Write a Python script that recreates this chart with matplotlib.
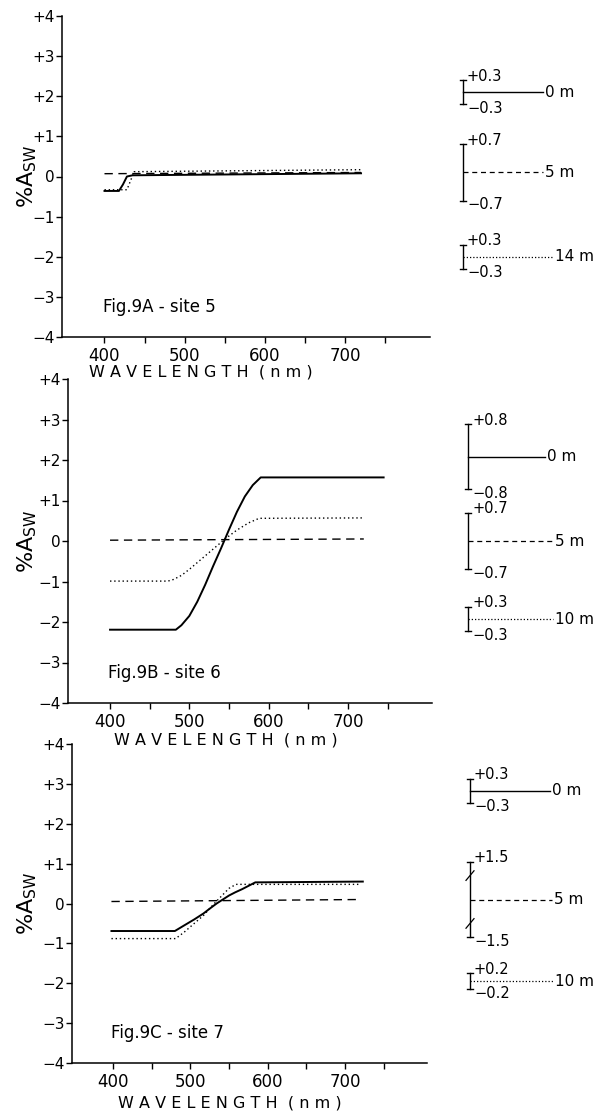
import numpy as np
import matplotlib
matplotlib.use('Agg')
import matplotlib.pyplot as plt
from matplotlib.transforms import blended_transform_factory

# --- data ---
a_wl_solid = [400, 418, 423, 428, 435, 720]
a_solid = [-0.36, -0.36, -0.2, 0.0, 0.03, 0.08]
a_wl_dash = [400, 720]
a_dash = [0.07, 0.10]
a_wl_dot = [400, 428, 437, 720]
a_dot = [-0.33, -0.33, 0.12, 0.17]

b_wl_solid = [400, 483, 490, 500, 510, 520, 530, 540, 550, 560, 570, 580, 590, 745]
b_solid = [-2.19, -2.19, -2.08, -1.85, -1.5, -1.08, -0.62, -0.18, 0.28, 0.72, 1.1, 1.38, 1.57, 1.57]
b_wl_dash = [400, 720]
b_dash = [0.02, 0.05]
b_wl_dot = [400, 473, 480, 490, 500, 515, 530, 545, 560, 575, 588, 720]
b_dot = [-0.99, -0.99, -0.95, -0.85, -0.7, -0.45, -0.2, 0.05, 0.27, 0.45, 0.56, 0.57]

c_wl_solid = [398, 480, 492, 505, 517, 525, 534, 542, 550, 558, 567, 575, 584, 723]
c_solid = [-0.69, -0.69, -0.55, -0.4, -0.25, -0.13, 0.0, 0.1, 0.2, 0.28, 0.36, 0.44, 0.53, 0.55]
c_wl_dash = [398, 720]
c_dash = [0.05, 0.10]
c_wl_dot = [398, 481, 492, 505, 517, 530, 540, 550, 559, 719]
c_dot = [-0.88, -0.88, -0.72, -0.5, -0.3, -0.02, 0.18, 0.38, 0.48, 0.48]

titles = ['Fig.9A - site 5', 'Fig.9B - site 6', 'Fig.9C - site 7']
leg_depths = [['0 m', '5 m', '14 m'], ['0 m', '5 m', '10 m'], ['0 m', '5 m', '10 m']]
leg_errors = [[0.3, 0.7, 0.3], [0.8, 0.7, 0.3], [0.3, 1.5, 0.2]]

ytick_vals = [-4, -3, -2, -1, 0, 1, 2, 3, 4]
ytick_labels = ['\u22124', '\u22123', '\u22122', '\u22121', '0', '+1', '+2', '+3', '+4']
xtick_major = [400, 500, 600, 700]
xtick_minor = [450, 550, 650, 750]

panels = [
    (a_wl_solid, a_solid, a_wl_dash, a_dash, a_wl_dot, a_dot),
    (b_wl_solid, b_solid, b_wl_dash, b_dash, b_wl_dot, b_dot),
    (c_wl_solid, c_solid, c_wl_dash, c_dash, c_wl_dot, c_dot),
]

# --- layout (pixels of a 595x1115 canvas) ---
W, H = 595, 1115
boxes = [(62, 430, 16, 337), (68, 432, 379, 703), (72, 427, 744, 1063)]  # left, right, top, bottom
xlabel_pos = [(201, 372), (226, 740), (230, 1103)]
leg_rows = [[2.1, 0.1, -2.0], [2.08, 0.0, -1.93], [2.83, 0.1, -1.95]]
leg_barx = [463, 468, 470]
leg_end = [[543, 543, 553], [545, 553, 553], [550, 552, 553]]

solid_kw = dict(color='black', lw=1.4, linestyle='-')
dash_kw = dict(color='black', lw=1.0, linestyle=(0, (6, 4)))
dot_kw = dict(color='black', lw=1.0, linestyle=(0, (1, 2)))
leg_styles = [dict(color='black', lw=1.0, linestyle='-'),
              dict(color='black', lw=0.9, linestyle=(0, (4, 3))),
              dict(color='black', lw=0.9, linestyle=(0, (1, 1.6)))]

plt.rcParams['font.family'] = ['DejaVu Sans']
fig = plt.figure(figsize=(W / 100, H / 100), dpi=100)

for i, (box, data) in enumerate(zip(boxes, panels)):
    l, r, t, b = box
    ax = fig.add_axes([l / W, 1 - b / H, (r - l) / W, (b - t) / H])
    ws, s, wd, d, wo, o = data
    ax.plot(ws, s, **solid_kw)
    ax.plot(wd, d, **dash_kw)
    ax.plot(wo, o, **dot_kw)

    ax.set_xlim(347, 806)
    ax.set_ylim(-4, 4)
    for side in ['top', 'right']:
        ax.spines[side].set_visible(False)
    for side in ['left', 'bottom']:
        ax.spines[side].set_linewidth(1.1)
    ax.set_yticks(ytick_vals)
    ax.set_yticklabels(ytick_labels, fontsize=11)
    ax.set_xticks(xtick_major)
    ax.set_xticklabels([str(v) for v in xtick_major], fontsize=12)
    ax.set_xticks(xtick_minor, minor=True)
    ax.tick_params(axis='y', direction='out', length=4, width=1, pad=1)
    ax.tick_params(axis='x', which='both', direction='out', length=4, width=1, pad=3)
    ax.text(398, -3.25, titles[i], fontsize=12, ha='left', va='center')

    fig.text(27 / W, 1 - ((t + b) / 2) / H, r'%$\mathregular{A_{SW}}$', rotation=90,
             fontsize=16, ha='center', va='center')
    xl, yl = xlabel_pos[i]
    fig.text(xl / W, 1 - yl / H, 'W A V E L E N G T H  ( n m )', fontsize=11.5,
             ha='center', va='center')

    # depth key with error scale bars, drawn in the panel's y units
    tr = blended_transform_factory(fig.transFigure, ax.transData)
    bx = leg_barx[i] / W
    cap = 3 / W
    for j, (lab, err) in enumerate(zip(leg_depths[i], leg_errors[i])):
        yc = leg_rows[i][j]
        half = min(err, 0.95)
        ax.plot([bx, bx], [yc - half, yc + half], color='black', lw=1.0,
                transform=tr, clip_on=False)
        for yy in (yc - half, yc + half):
            ax.plot([bx - cap, bx + cap], [yy, yy], color='black', lw=1.0,
                    transform=tr, clip_on=False)
        if err > half:
            for yy in (yc - 0.6, yc + 0.6):
                ax.plot([bx - 4 / W, bx + 4 / W], [yy - 0.12, yy + 0.12],
                        color='black', lw=0.9, transform=tr, clip_on=False)
        ex = leg_end[i][j] / W
        ax.plot([bx, ex], [yc, yc], transform=tr, clip_on=False, **leg_styles[j])
        ax.text(ex + 2 / W, yc, lab, transform=tr, fontsize=11, ha='left', va='center')
        ax.text(bx + 4 / W, yc + half + 0.1, '+%g' % err, transform=tr,
                fontsize=10.5, ha='left', va='center')
        ax.text(bx + 4 / W, yc - half - 0.1, '\u2212%g' % err, transform=tr,
                fontsize=10.5, ha='left', va='center')

fig.savefig('out.png', dpi=100)
